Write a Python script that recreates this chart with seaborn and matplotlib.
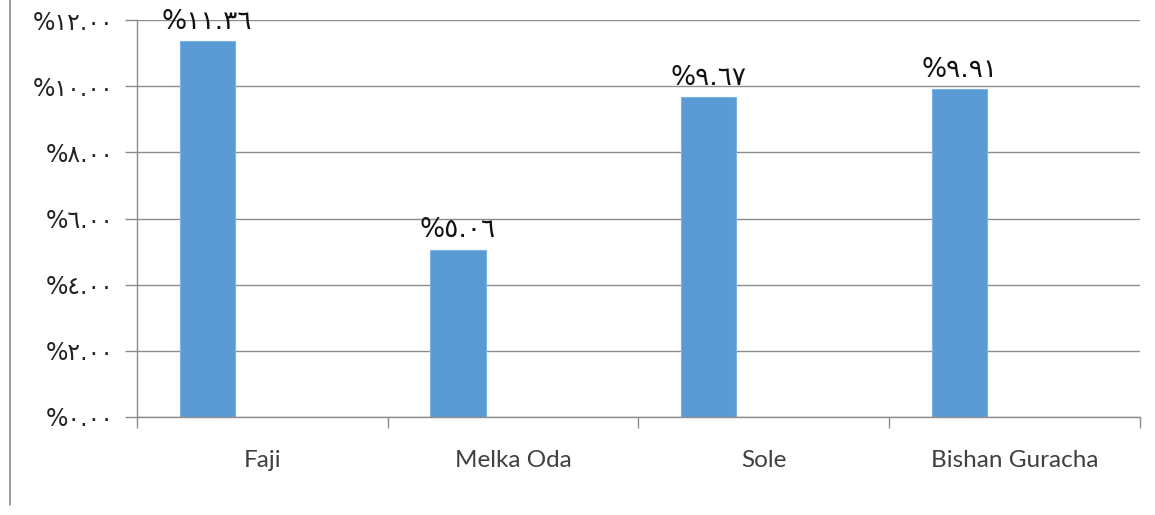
import matplotlib
matplotlib.use("Agg")
import matplotlib.pyplot as plt
from matplotlib.lines import Line2D
import seaborn as sns
import pandas as pd

# Share of households per site (percent)
sites = ["Faji", "Melka Oda", "Sole", "Bishan Guracha"]
shares = [11.36, 5.06, 9.67, 9.91]
y_ticks = [0, 2, 4, 6, 8, 10, 12]

AR_DIGITS = str.maketrans("0123456789", "٠١٢٣٤٥٦٧٨٩")


def ar_pct(v):
    return "%" + f"{v:.2f}".translate(AR_DIGITS)


sns.set_theme(style="white")
plt.rcParams["font.family"] = ["DejaVu Sans"]

fig = plt.figure(figsize=(11.55, 5.15), dpi=100)
ax = fig.add_axes([0.1186, 0.1903, 0.987 - 0.1186, 0.961 - 0.1903])

df = pd.DataFrame({"site": sites, "share": shares})
sns.barplot(data=df, x="site", y="share", ax=ax, color="#5B9BD5",
            saturation=1, width=0.22, edgecolor="#7FB2E5", linewidth=0.8)

# bars sit at the left third of each category slot
for p in ax.patches:
    p.set_x(p.get_x() - 0.22)

for p, v in zip(ax.patches, shares):
    ax.text(p.get_x() + p.get_width() / 2, v + 0.2, ar_pct(v),
            ha="center", va="bottom", fontsize=19, color="#111111")

ax.set_xlim(-0.5, 3.5)
ax.set_ylim(0, 12)
ax.set_yticks(y_ticks)
ax.set_yticklabels([ar_pct(t) for t in y_ticks], fontsize=17, color="#222222")
ax.yaxis.grid(True, color="#8C8C8C", linewidth=1.0)
ax.set_axisbelow(True)

ax.set_xticks([-0.5, 0.5, 1.5, 2.5, 3.5], minor=False)
ax.set_xticklabels([])
ax.set_xticks([0, 1, 2, 3], minor=True)
ax.set_xticklabels(sites, minor=True, fontsize=17.5, color="#404040",
                   family=["Lato", "DejaVu Sans"])
ax.tick_params(axis="x", which="major", bottom=True, direction="out",
               length=8, color="#8C8C8C", width=1)
ax.tick_params(axis="x", which="minor", bottom=True, length=0, pad=24)
ax.tick_params(axis="y", left=True, direction="out", length=9,
               color="#8C8C8C", width=1, pad=8)

ax.set_xlabel("")
ax.set_ylabel("")
for side in ["top", "right"]:
    ax.spines[side].set_visible(False)
for side in ["left", "bottom"]:
    ax.spines[side].set_color("#8C8C8C")
    ax.spines[side].set_linewidth(1.0)

# frame edge on the left of the figure
fig.add_artist(Line2D([10 / 1155, 10 / 1155], [0.02, 1.0],
                      transform=fig.transFigure, color="#8C8C8C", linewidth=1.2))

fig.savefig("out.png", dpi=100)
